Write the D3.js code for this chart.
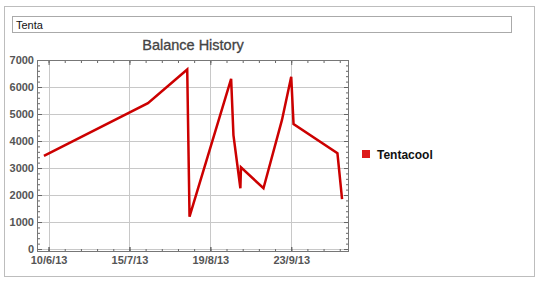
<!DOCTYPE html>
<html>
<head>
<meta charset="utf-8">
<script src="https://cdn.jsdelivr.net/npm/d3@7"></script>
<style>
  body { margin: 0; background: #fff; font-family: "Liberation Sans", Arial, sans-serif; }
  svg { display: block; }
</style>
</head>
<body>
<svg id="chart" width="540" height="283"></svg>
<script>
// données
const dates = ["2013-06-08", "2013-07-23", "2013-08-09", "2013-08-10", "2013-08-28",
  "2013-08-29", "2013-09-01T00:00", "2013-09-01T06:00", "2013-09-11", "2013-09-19",
  "2013-09-23", "2013-09-24", "2013-10-13", "2013-10-15"];
const balances = [3450, 5400, 6650, 1200, 6300, 4220, 2250, 3025, 2250, 4780, 6380, 4630, 3545, 1850];
const xTicks = ["2013-06-10", "2013-07-15", "2013-08-19", "2013-09-23"];
const yTicks = [0, 1000, 2000, 3000, 4000, 5000, 6000, 7000];
const seriesName = "Tentacool";

const parse = d3.isoParse;
const fmt = d3.timeFormat("%-d/%-m/%y");
const data = dates.map((d, i) => ({ date: parse(d), value: balances[i] }));

const svg = d3.select("#chart");
const m = { left: 37, top: 60, right: 349, bottom: 252 };

// cadre extérieur + champ texte
svg.append("rect").attr("x", 4.5).attr("y", 6.5).attr("width", 530).attr("height", 270)
  .attr("fill", "#fff").attr("stroke", "#bdbdbd");
svg.append("rect").attr("x", 12.5).attr("y", 16.5).attr("width", 499).attr("height", 16)
  .attr("fill", "#fff").attr("stroke", "#aaa");
svg.append("text").attr("x", 16).attr("y", 28.5).attr("font-size", 11).attr("fill", "#111")
  .text("Tenta");

const x = d3.scaleTime()
  .domain([parse("2013-06-05"), parse("2013-10-18")])
  .range([m.left, m.right]);
const y = d3.scaleLinear().domain([-110, 7000]).range([m.bottom, m.top]);

// grille
const g = svg.append("g");
g.selectAll(".vg").data(xTicks).join("line")
  .attr("x1", d => Math.round(x(parse(d))) + 0.5).attr("x2", d => Math.round(x(parse(d))) + 0.5)
  .attr("y1", m.top).attr("y2", m.bottom).attr("stroke", "#c8c8c8");
g.selectAll(".hg").data(yTicks).join("line")
  .attr("y1", d => Math.round(y(d)) + 0.5).attr("y2", d => Math.round(y(d)) + 0.5)
  .attr("x1", m.left).attr("x2", m.right).attr("stroke", "#c8c8c8");

// ticks mineurs (semaines, 200)
const weeks = d3.timeWeek.every(1).range(x.domain()[0], x.domain()[1])
  .map(d => d3.timeDay.offset(d, 1)); // lundis
const minorY = d3.range(0, 7001, 200);

function axis(gen, tr, size, vals, fmtFn) {
  const a = svg.append("g").attr("transform", tr)
    .call(gen.tickValues(vals).tickSize(size).tickFormat(fmtFn || ""));
  a.select(".domain").remove();
  a.selectAll("line").attr("stroke", "#666");
  return a;
}
const xt = xTicks.map(parse);
axis(d3.axisBottom(x), `translate(0,${m.bottom})`, -3, weeks);
axis(d3.axisTop(x), `translate(0,${m.top})`, -3, weeks);
axis(d3.axisLeft(y), `translate(${m.left},0)`, -3, minorY);
axis(d3.axisRight(y), `translate(${m.right},0)`, -3, minorY);
axis(d3.axisBottom(x), `translate(0,${m.bottom})`, -5, xt);
axis(d3.axisTop(x), `translate(0,${m.top})`, -5, xt);
axis(d3.axisRight(y), `translate(${m.right},0)`, -5, yTicks);

const yl = axis(d3.axisLeft(y), `translate(${m.left},0)`, -5, yTicks, d3.format("d"));
yl.selectAll("text").attr("x", -3).attr("dy", "0.35em");
const xl = axis(d3.axisBottom(x), `translate(0,${m.bottom})`, -5, xt, fmt);
xl.selectAll("text").attr("y", 4).attr("dy", "0.71em");
svg.selectAll(".tick text").attr("fill", "#555").attr("font-size", 11)
  .attr("font-weight", "bold").attr("font-family", "Liberation Sans, Arial, sans-serif");

// bordure du tracé
svg.append("rect").attr("x", m.left + 0.5).attr("y", m.top + 0.5)
  .attr("width", m.right - m.left - 1).attr("height", m.bottom - m.top - 1)
  .attr("fill", "none").attr("stroke", "#777");

// titre
svg.append("text").attr("x", 193).attr("y", 50).attr("text-anchor", "middle")
  .attr("font-size", 14.5).attr("fill", "#444")
  .attr("stroke", "#444").attr("stroke-width", 0.3)
  .text("Balance History");

// ligne
const line = d3.line().x(d => x(d.date)).y(d => y(d.value));
svg.append("path").datum(data).attr("d", line)
  .attr("fill", "none").attr("stroke", "#cc0000").attr("stroke-width", 2.5)
  .attr("stroke-linejoin", "miter");

// légende
svg.append("rect").attr("x", 362).attr("y", 150).attr("width", 8).attr("height", 8)
  .attr("fill", "#dd1a1a");
svg.append("text").attr("x", 377).attr("y", 158.5).attr("font-size", 12)
  .attr("font-weight", "bold").attr("fill", "#111").text(seriesName);
</script>
</body>
</html>
